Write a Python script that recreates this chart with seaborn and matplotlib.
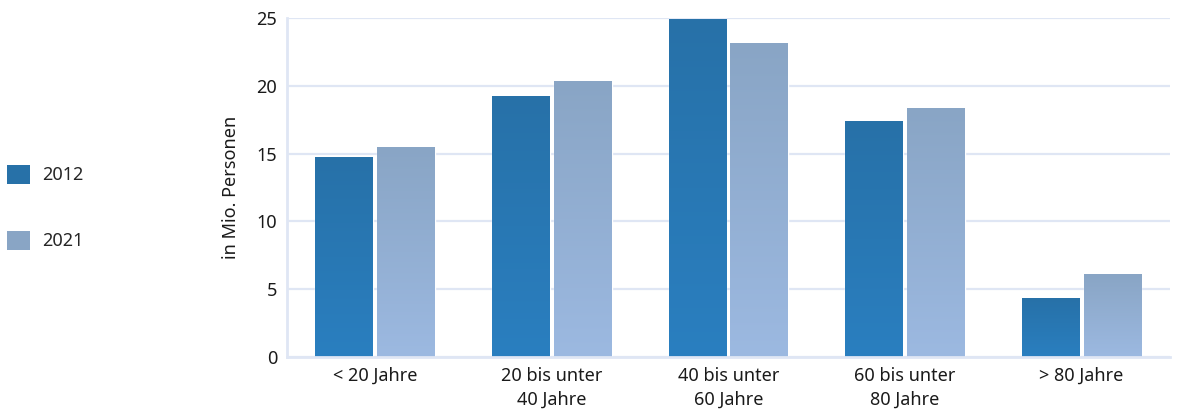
import numpy as np
import pandas as pd
import matplotlib
matplotlib.use("Agg")
import matplotlib.pyplot as plt
import seaborn as sns
from matplotlib.colors import LinearSegmentedColormap
from matplotlib.patches import Patch

# Bevölkerung nach Altersgruppen (in Mio. Personen)
groups = ["< 20 Jahre", "20 bis unter\n40 Jahre", "40 bis unter\n60 Jahre",
          "60 bis unter\n80 Jahre", "> 80 Jahre"]
years = ["2012", "2021"]
vals_2012 = [14.75, 19.25, 24.93, 17.4, 4.35]
vals_2021 = [15.49, 20.35, 23.16, 18.36, 6.12]

# Farbverlauf je Jahr (oben, unten)
grad = {"2012": ("#2771a8", "#2a7fc0"), "2021": ("#89a5c5", "#9cb9e1")}
grid_col = "#dfe6f4"
txt_col = "#1a1a1a"
fs = 13

df = pd.DataFrame({
    "gruppe": groups * 2,
    "jahr": [years[0]] * 5 + [years[1]] * 5,
    "wert": vals_2012 + vals_2021,
})

sns.set_style("white")
plt.rcParams["font.family"] = ["Noto Sans", "DejaVu Sans"]

fig = plt.figure(figsize=(11.77, 4.09), dpi=100)
ax = fig.add_axes([0.2438, 0.1271, 0.994 - 0.2438, 0.956 - 0.1271])

palette = {y: grad[y][0] for y in years}
sns.barplot(data=df, x="gruppe", y="wert", hue="jahr", palette=palette,
            width=0.70, gap=0.065, legend=False, ax=ax, zorder=2)

# Farbverlauf auf die Balken legen
for cont, yr in zip(ax.containers, years):
    cmap = LinearSegmentedColormap.from_list(yr, [grad[yr][1], grad[yr][0]])
    for p in cont.patches:
        x0, y0 = p.get_x(), p.get_y()
        w, h = p.get_width(), p.get_height()
        g = np.linspace(0, 1, 256).reshape(-1, 1)
        im = ax.imshow(g, cmap=cmap, origin="lower", aspect="auto",
                       extent=(x0, x0 + w, y0, y0 + h), zorder=2.5)
        im.set_clip_path(p)

ax.set_ylim(0, 25)
ax.set_xlim(-0.5, 4.5)
ax.set_yticks([0, 5, 10, 15, 20, 25])
ax.yaxis.grid(True, color=grid_col, linewidth=1.6)
ax.set_axisbelow(True)

for s in ["top", "right"]:
    ax.spines[s].set_visible(False)
for s in ["left", "bottom"]:
    ax.spines[s].set_color(grid_col)
    ax.spines[s].set_linewidth(2)

ax.tick_params(axis="y", length=0, pad=7, labelsize=fs, labelcolor=txt_col)
ax.tick_params(axis="x", length=0, pad=7, labelsize=fs, labelcolor=txt_col)
for t in ax.get_xticklabels():
    t.set_linespacing(1.45)
ax.set_xlabel("")
ax.set_ylabel("in Mio. Personen", fontsize=fs, color=txt_col, labelpad=12)

handles = [Patch(facecolor=grad[y][0], edgecolor="none") for y in years]
fig.legend(handles, years, loc="center left",
           bbox_to_anchor=(7 / 1177, 1 - 207.5 / 409), frameon=False,
           fontsize=fs, handlelength=1.25, handleheight=1.25, handletextpad=0.7,
           labelspacing=2.55, borderpad=0, borderaxespad=0)

fig.savefig("out.png", dpi=100)
